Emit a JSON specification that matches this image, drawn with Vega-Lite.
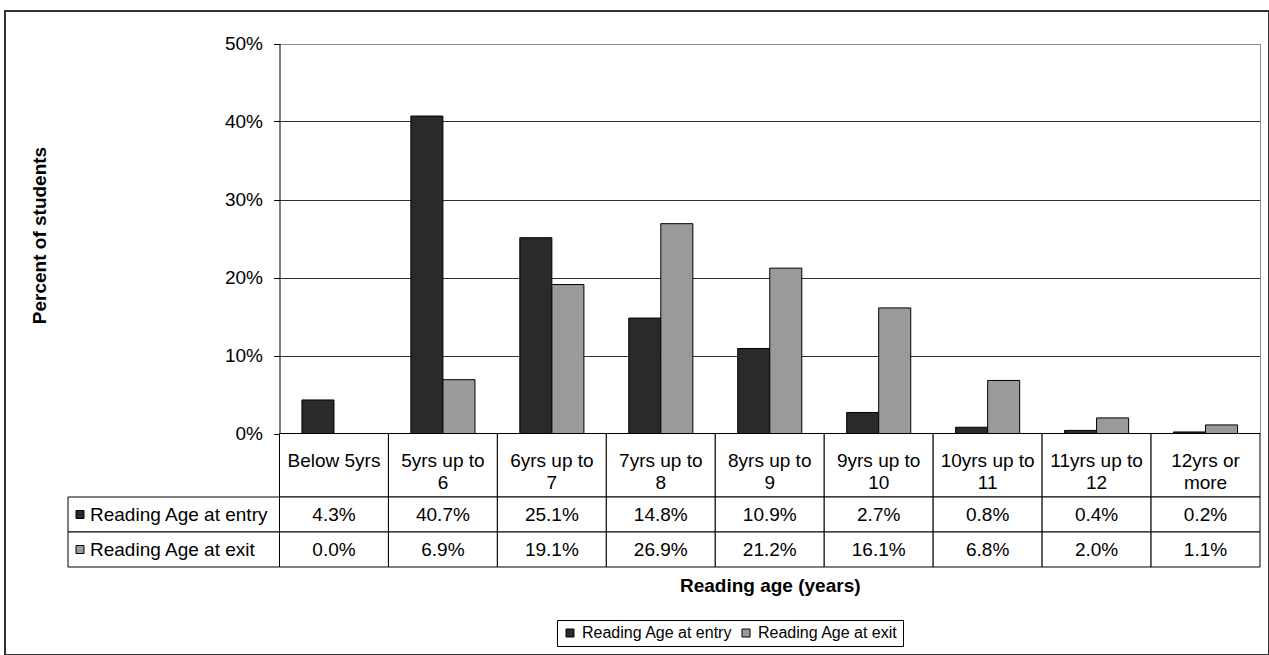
{
  "$schema": "https://vega.github.io/schema/vega-lite/v6.json",
  "width": 1264,
  "height": 644,
  "autosize": {"type": "none"},
  "padding": {"left": 5, "top": 11, "right": 0, "bottom": 0},
  "background": "white",
  "config": {
    "font": "Liberation Sans",
    "view": {"stroke": "#333333", "strokeWidth": 2},
    "text": {"font": "Liberation Sans", "color": "black"}
  },
  "datasets": {
    "readingAge": [
      {"age": "Below 5yrs", "series": "Reading Age at entry", "pct": 0.043},
      {"age": "Below 5yrs", "series": "Reading Age at exit", "pct": 0.0},
      {"age": "5yrs up to 6", "series": "Reading Age at entry", "pct": 0.407},
      {"age": "5yrs up to 6", "series": "Reading Age at exit", "pct": 0.069},
      {"age": "6yrs up to 7", "series": "Reading Age at entry", "pct": 0.251},
      {"age": "6yrs up to 7", "series": "Reading Age at exit", "pct": 0.191},
      {"age": "7yrs up to 8", "series": "Reading Age at entry", "pct": 0.148},
      {"age": "7yrs up to 8", "series": "Reading Age at exit", "pct": 0.269},
      {"age": "8yrs up to 9", "series": "Reading Age at entry", "pct": 0.109},
      {"age": "8yrs up to 9", "series": "Reading Age at exit", "pct": 0.212},
      {"age": "9yrs up to 10", "series": "Reading Age at entry", "pct": 0.027},
      {"age": "9yrs up to 10", "series": "Reading Age at exit", "pct": 0.161},
      {"age": "10yrs up to 11", "series": "Reading Age at entry", "pct": 0.008},
      {"age": "10yrs up to 11", "series": "Reading Age at exit", "pct": 0.068},
      {"age": "11yrs up to 12", "series": "Reading Age at entry", "pct": 0.004},
      {"age": "11yrs up to 12", "series": "Reading Age at exit", "pct": 0.02},
      {"age": "12yrs or more", "series": "Reading Age at entry", "pct": 0.002},
      {"age": "12yrs or more", "series": "Reading Age at exit", "pct": 0.011}
    ],
    "ageBands": [
      {"age": "Below 5yrs", "heading": "Below 5yrs"},
      {"age": "5yrs up to 6", "heading": "5yrs up to\n6"},
      {"age": "6yrs up to 7", "heading": "6yrs up to\n7"},
      {"age": "7yrs up to 8", "heading": "7yrs up to\n8"},
      {"age": "8yrs up to 9", "heading": "8yrs up to\n9"},
      {"age": "9yrs up to 10", "heading": "9yrs up to\n10"},
      {"age": "10yrs up to 11", "heading": "10yrs up to\n11"},
      {"age": "11yrs up to 12", "heading": "11yrs up to\n12"},
      {"age": "12yrs or more", "heading": "12yrs or\nmore"}
    ],
    "seriesNames": [
      {"series": "Reading Age at entry"},
      {"series": "Reading Age at exit"}
    ]
  },
  "resolve": {"scale": {"x": "independent", "y": "independent"}},
  "layer": [
    {
      "data": {"name": "readingAge"},
      "mark": {"type": "bar", "stroke": "black", "strokeWidth": 1},
      "encoding": {
        "x": {
          "field": "age", "type": "nominal", "sort": null,
          "scale": {"range": [274.5, 1255], "paddingInner": 0, "paddingOuter": 0},
          "axis": null
        },
        "xOffset": {
          "field": "series", "type": "nominal",
          "scale": {"paddingInner": 0, "paddingOuter": 0.7}
        },
        "y": {
          "field": "pct", "type": "quantitative",
          "scale": {"domain": [0, 0.5], "range": [422.5, 32.5], "nice": false},
          "axis": {
            "values": [0, 0.1, 0.2, 0.3, 0.4, 0.5],
            "format": ".0%",
            "offset": -274.5,
            "grid": true,
            "gridColor": {"condition": {"test": "datum.value >= 0.5", "value": "#8c8c8c"}, "value": "#303030"},
            "gridWidth": 1,
            "domainColor": "black",
            "domainWidth": 1,
            "tickColor": "black",
            "tickSize": 6,
            "labelPadding": 11,
            "labelFontSize": 19,
            "labelColor": "black",
            "title": "Percent of students",
            "titleFontSize": 19,
            "titleFontWeight": "bold",
            "titleColor": "black",
            "titleAngle": 270,
            "titleAlign": "center",
            "titleBaseline": "middle",
            "titleX": -240.5,
            "titleY": 224
          }
        },
        "color": {
          "field": "series", "type": "nominal",
          "scale": {"domain": ["Reading Age at entry", "Reading Age at exit"], "range": ["#2a2a2a", "#9a9a9a"]},
          "legend": {
            "orient": "none",
            "legendX": 552,
            "legendY": 609,
            "direction": "horizontal",
            "title": null,
            "strokeColor": "black",
            "fillColor": "white",
            "padding": 5,
            "symbolType": "square",
            "symbolSize": 64,
            "symbolStrokeColor": "black",
            "symbolStrokeWidth": 1,
            "labelFontSize": 16,
            "labelColor": "black",
            "labelLimit": 0,
            "labelOffset": 4,
            "columnPadding": 5
          }
        }
      }
    },
    {
      "data": {"name": "readingAge"},
      "mark": {"type": "rule", "opacity": 0},
      "encoding": {
        "y": {
          "field": "pct", "type": "quantitative",
          "scale": {"domain": [0, 0.5], "range": [422.5, 32.5], "nice": false},
          "axis": {
            "orient": "right", "offset": -9, "labels": false, "ticks": false,
            "grid": false, "domainColor": "#8c8c8c", "title": null
          }
        }
      }
    },
    {
      "data": {"name": "ageBands"},
      "encoding": {
        "x": {
          "field": "age", "type": "nominal", "sort": null,
          "scale": {"range": [274.5, 1255], "paddingInner": 0, "paddingOuter": 0},
          "axis": null
        },
        "y": {
          "datum": "heading", "type": "nominal",
          "scale": {"range": [422.5, 486], "paddingInner": 0, "paddingOuter": 0},
          "axis": null
        }
      },
      "layer": [
        {"mark": {"type": "rect", "fill": "white", "stroke": "black", "strokeWidth": 1}},
        {
          "mark": {"type": "text", "fontSize": 19, "lineBreak": "\n", "lineHeight": 22, "baseline": "middle", "dy": -4},
          "encoding": {"text": {"field": "heading"}}
        }
      ]
    },
    {
      "data": {"name": "readingAge"},
      "encoding": {
        "x": {
          "field": "age", "type": "nominal", "sort": null,
          "scale": {"range": [274.5, 1255], "paddingInner": 0, "paddingOuter": 0},
          "axis": {
            "orient": "bottom", "labels": false, "ticks": false, "domain": false, "grid": false,
            "title": "Reading age (years)",
            "titleFontSize": 19, "titleFontWeight": "bold", "titleColor": "black",
            "titleBaseline": "middle", "titleY": -70
          }
        },
        "y": {
          "field": "series", "type": "nominal",
          "scale": {"domain": ["Reading Age at entry", "Reading Age at exit"], "range": [486, 556], "paddingInner": 0, "paddingOuter": 0},
          "axis": null
        }
      },
      "layer": [
        {"mark": {"type": "rect", "fill": "white", "stroke": "black", "strokeWidth": 1}},
        {
          "mark": {"type": "text", "fontSize": 19, "baseline": "middle"},
          "encoding": {"text": {"field": "pct", "format": ".1%"}}
        }
      ]
    },
    {
      "data": {"name": "seriesNames"},
      "encoding": {
        "x": {
          "datum": "key", "type": "nominal",
          "scale": {"range": [63, 274.5], "paddingInner": 0, "paddingOuter": 0},
          "axis": null
        },
        "y": {
          "field": "series", "type": "nominal",
          "scale": {"domain": ["Reading Age at entry", "Reading Age at exit"], "range": [486, 556], "paddingInner": 0, "paddingOuter": 0},
          "axis": null
        }
      },
      "layer": [
        {"mark": {"type": "rect", "fill": "white", "stroke": "black", "strokeWidth": 1}},
        {
          "mark": {"type": "square", "size": 64, "opacity": 1, "stroke": "black", "strokeWidth": 1, "xOffset": 12},
          "encoding": {
            "x": {"datum": "key", "type": "nominal", "bandPosition": 0},
            "color": {"field": "series", "type": "nominal"}
          }
        },
        {
          "mark": {"type": "text", "fontSize": 19, "align": "left", "baseline": "middle", "dx": 22},
          "encoding": {
            "x": {"datum": "key", "type": "nominal", "bandPosition": 0},
            "text": {"field": "series"}
          }
        }
      ]
    }
  ]
}
